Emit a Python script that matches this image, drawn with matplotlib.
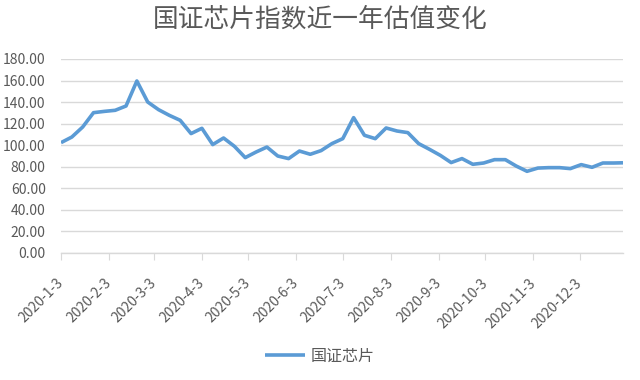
import matplotlib
matplotlib.use("Agg")
import matplotlib.pyplot as plt
import matplotlib.dates as mdates
import pandas as pd

plt.rcParams['font.family'] = ['Noto Sans CJK SC', 'DejaVu Sans']

title = "国证芯片指数近一年估值变化"
series_name = "国证芯片"

dates = list(pd.date_range("2020-01-03", periods=52, freq="7D")) + [pd.Timestamp("2020-12-31")]
values = [102.4, 107.6, 116.9, 130.2, 131.4, 132.4, 136.4, 159.6, 140.1, 133.0,
          127.7, 123.1, 110.8, 115.7, 100.6, 106.7, 99.0, 88.5, 93.7, 98.3,
          90.0, 87.6, 94.6, 91.6, 95.0, 101.5, 106.1, 125.6, 109.2, 106.1,
          116.0, 113.2, 111.7, 101.5, 96.2, 90.6, 83.9, 87.6, 82.3, 83.5,
          86.6, 86.6, 80.7, 75.8, 78.8, 79.2, 79.2, 78.3, 82.0, 79.5,
          83.5, 83.5, 83.7]

xtick_labels = ["2020-1-3", "2020-2-3", "2020-3-3", "2020-4-3", "2020-5-3", "2020-6-3",
                "2020-7-3", "2020-8-3", "2020-9-3", "2020-10-3", "2020-11-3", "2020-12-3"]
yticks = [0, 20, 40, 60, 80, 100, 120, 140, 160, 180]

gray = "#595959"
grid_c = "#d9d9d9"
line_c = "#5B9BD5"

fig = plt.figure(figsize=(6.4, 3.8), dpi=100)
ax = fig.add_axes([61/640, 1-253/380, (623-61)/640, (253-59)/380])

ax.plot(dates, values, color=line_c, lw=2.6, solid_joinstyle="round", solid_capstyle="butt",
        label=series_name, zorder=3)

ax.set_ylim(0, 180)
ax.set_yticks(yticks)
ax.set_yticklabels([f"{v:.2f}" for v in yticks], color=gray, fontsize=10)
ax.tick_params(axis="y", length=0, pad=11)
ax.yaxis.grid(True, color=grid_c, lw=1)
ax.set_axisbelow(True)

tick_dates = pd.to_datetime(xtick_labels, format="%Y-%m-%d")
ax.set_xlim(dates[0], dates[-1])
ax.set_xticks(tick_dates)
ax.set_xticklabels(xtick_labels, rotation=45, ha="right", va="center",
                   rotation_mode="anchor", color=gray, fontsize=10)
ax.tick_params(axis="x", length=5, color=grid_c, pad=15)

for s in ["top", "right", "left"]:
    ax.spines[s].set_visible(False)
ax.spines["bottom"].set_color(grid_c)
ax.spines["bottom"].set_linewidth(1)

fig.text(0.5, 1-20/380, title, ha="center", va="center", fontsize=18.5, color=gray,
         fontweight="light")

fig.legend(loc="center", bbox_to_anchor=(0.5, 1-356/380), frameon=False,
           fontsize=11.5, handlelength=2.5, handletextpad=0.35, labelcolor=gray)

fig.savefig("out.png", dpi=100)
